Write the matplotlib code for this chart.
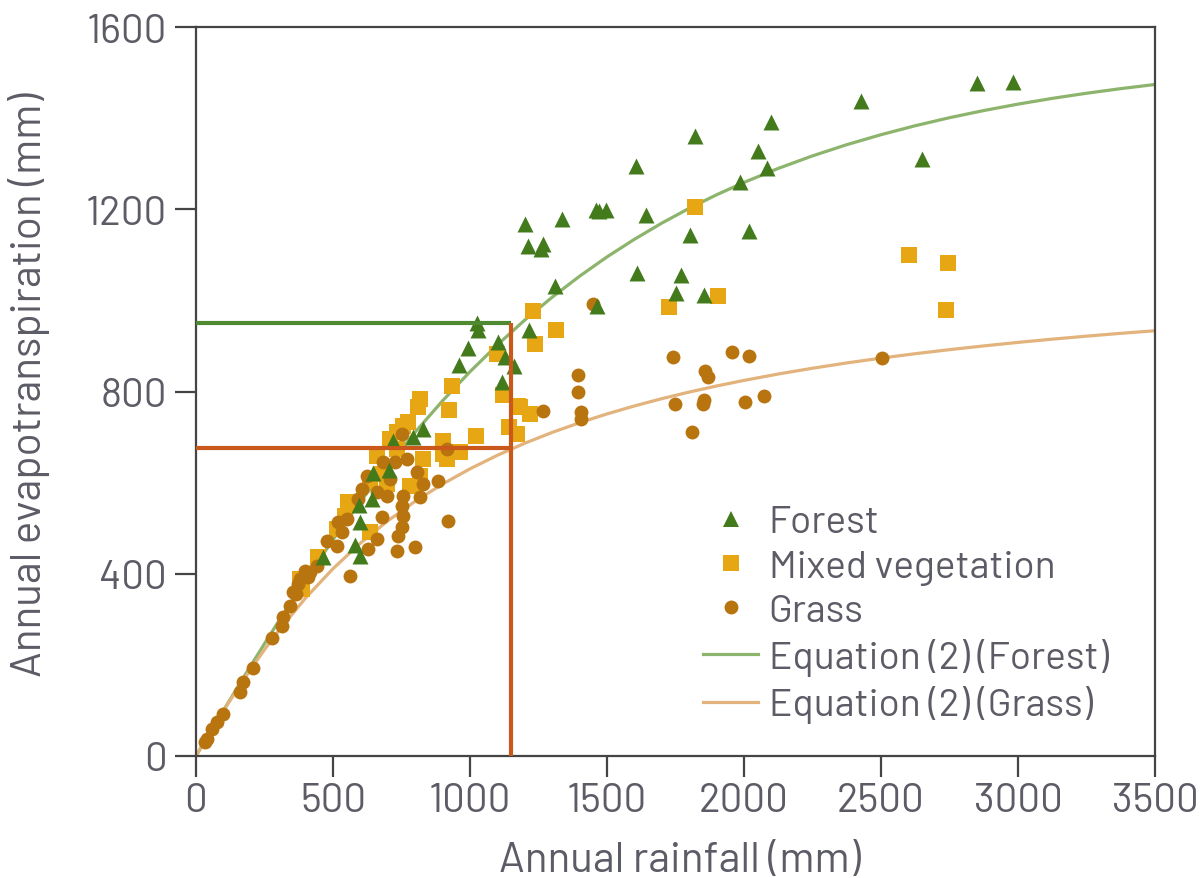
import matplotlib
matplotlib.use("Agg")
import matplotlib.pyplot as plt
from matplotlib.lines import Line2D

plt.rcParams['font.family'] = ['Barlow', 'DejaVu Sans']

# Observed catchments: (annual rainfall mm, annual evapotranspiration mm)
forest_rain = [2850, 2982, 2427, 2099, 1821, 2051, 2650, 1606, 2084, 1985, 1201, 1336,
               1460, 1496, 1471, 1642, 1212, 1266, 1259, 1803, 2018, 1310, 1609, 1770,
               1752, 1854, 1464, 1215, 1025, 1030, 993, 960, 1102, 1128, 1161, 1117,
               828, 792, 719, 704, 646, 595, 642, 599, 580, 599, 464]
forest_et = [1477, 1479, 1438, 1391, 1361, 1328, 1310, 1295, 1291, 1260, 1168, 1179,
             1198, 1198, 1196, 1187, 1119, 1124, 1113, 1143, 1152, 1032, 1060, 1056,
             1016, 1012, 988, 935, 950, 935, 895, 858, 909, 876, 856, 821,
             718, 700, 691, 628, 621, 551, 564, 514, 463, 439, 437]

mixed_rain = [1821, 2602, 2745, 2737, 1905, 1726, 1230, 1314, 1237, 1182, 1219, 1099,
              934, 923, 818, 810, 1120, 1175, 1022, 1142, 1172, 901, 964, 755, 708,
              916, 660, 734, 828, 818, 679, 697, 635, 781, 555, 544, 515, 635, 445,
              380, 387, 774, 734, 901, 792]
mixed_et = [1205, 1100, 1082, 979, 1010, 985, 977, 935, 904, 766, 750, 882,
            812, 759, 783, 766, 792, 768, 702, 722, 707, 691, 667, 724, 696,
            652, 658, 674, 652, 615, 619, 597, 604, 593, 557, 527, 498, 492, 437,
            388, 367, 733, 711, 663, 593]

grass_rain = [2504, 1741, 1956, 2018, 1858, 1869, 1394, 1394, 1405, 1405, 1748, 1854,
              1850, 2004, 2073, 1810, 1266, 1449, 752, 916, 682, 770, 726, 807, 624,
              708, 883, 828, 606, 660, 697, 755, 818, 591, 752, 755, 679, 920, 551,
              518, 533, 752, 737, 660, 478, 515, 628, 734, 799, 562, 442, 398, 409,
              372, 354, 380, 416, 365, 343, 318, 314, 277, 208, 172, 161, 99, 77, 58,
              40, 33]
grass_et = [874, 876, 887, 878, 845, 832, 836, 799, 755, 740, 773, 781,
            773, 777, 790, 711, 757, 992, 707, 674, 645, 652, 645, 623, 615,
            608, 604, 597, 586, 579, 571, 571, 568, 564, 549, 527, 525, 516, 520,
            514, 492, 503, 483, 476, 472, 461, 454, 450, 459, 395, 417, 406, 393,
            378, 360, 388, 404, 356, 329, 305, 285, 259, 193, 162, 140, 92, 75, 59,
            37, 31]

# Equation (2) curves, tabulated against rainfall
curve_rain = [0, 50, 100, 150, 200, 250, 300, 400, 500, 600, 700, 800, 900, 1000,
              1100, 1200, 1300, 1400, 1500, 1600, 1700, 1800, 1900, 2000, 2125, 2250,
              2375, 2500, 2625, 2750, 2875, 3000, 3125, 3250, 3375, 3500]
curve_forest = [0, 50.0, 99.8, 149.2, 198.1, 246.4, 294.0, 386.4, 474.7, 558.3, 637.1,
                710.9, 779.6, 843.4, 902.4, 956.9, 1007.0, 1053.1, 1095.4, 1134.1,
                1169.6, 1202.1, 1231.8, 1259.0, 1289.7, 1317.2, 1341.8, 1363.7,
                1383.4, 1401.0, 1416.7, 1430.8, 1443.4, 1454.7, 1464.8, 1473.9]
curve_grass = [0, 49.8, 98.6, 145.7, 190.7, 233.4, 273.6, 346.9, 411.0, 467.1, 516.1,
               559.1, 596.9, 630.3, 660.0, 686.5, 710.2, 731.5, 750.8, 768.3, 784.3,
               798.8, 812.1, 824.4, 838.4, 851.1, 862.7, 873.3, 883.0, 891.9, 900.1,
               907.8, 914.9, 921.5, 927.7, 933.4]

# Worked example: rainfall of 1150 mm
example_rain = 1150
example_et_forest = 950
example_et_grass = 676

x_ticks = [0, 500, 1000, 1500, 2000, 2500, 3000, 3500]
y_ticks = [0, 400, 800, 1200, 1600]

C_FOREST = '#437a1c'
C_MIXED = '#e7a614'
C_GRASS = '#b8740f'
C_CURVE_F = '#8db46c'
C_CURVE_G = '#e2b37c'
C_LINE_F = '#4f8a33'
C_LINE_G = '#c9581a'
C_TEXT = '#5c5c66'
C_AXIS = '#444444'

fig = plt.figure(figsize=(12, 8.79), dpi=100)
ax = fig.add_axes([0.1633, 0.1388, 0.7992, 0.8293])

ax.plot(curve_rain, curve_forest, color=C_CURVE_F, lw=2.3, zorder=2)
ax.plot(curve_rain, curve_grass, color=C_CURVE_G, lw=2.3, zorder=2)

ax.scatter(mixed_rain, mixed_et, marker='s', s=11**2, color=C_MIXED, lw=0, zorder=3)
ax.scatter(grass_rain, grass_et, marker='o', s=10**2, color=C_GRASS, lw=0, zorder=4)
ax.scatter(forest_rain, forest_et, marker='^', s=11.5**2, color=C_FOREST, lw=0, zorder=5)

ax.plot([0, example_rain], [example_et_forest, example_et_forest], color=C_LINE_F,
        lw=3, zorder=6, solid_capstyle='butt')
ax.plot([0, example_rain], [example_et_grass, example_et_grass], color=C_LINE_G,
        lw=3, zorder=6, solid_capstyle='butt')
ax.plot([example_rain, example_rain], [0, example_et_forest], color=C_LINE_G,
        lw=3, zorder=6, solid_capstyle='butt')

ax.set_xlim(0, 3500)
ax.set_ylim(0, 1600)
ax.set_xticks(x_ticks)
ax.set_yticks(y_ticks)
ax.tick_params(direction='out', length=15, width=1.6, color=C_AXIS,
               labelcolor=C_TEXT, labelsize=29)
ax.tick_params(axis='y', pad=6)
ax.tick_params(axis='x', pad=4)
for sp in ax.spines.values():
    sp.set_color(C_AXIS)
    sp.set_linewidth(1.6)

ax.set_xlabel('Annual rainfall (mm)', fontsize=30.5, color=C_TEXT)
ax.set_ylabel('Annual evapotranspiration (mm)', fontsize=30.5, color=C_TEXT)
ax.xaxis.set_label_coords(0.505, -0.116)
ax.yaxis.set_label_coords(-0.152, 0.51)

handles = [
    Line2D([], [], marker='^', ls='none', color=C_FOREST, markersize=11.5, mew=0),
    Line2D([], [], marker='s', ls='none', color=C_MIXED, markersize=11, mew=0),
    Line2D([], [], marker='o', ls='none', color=C_GRASS, markersize=10, mew=0),
    Line2D([], [], color=C_CURVE_F, lw=2.3),
    Line2D([], [], color=C_CURVE_G, lw=2.3),
]
labels = ['Forest', 'Mixed vegetation', 'Grass',
          'Equation (2) (Forest)', 'Equation (2) (Grass)']
leg = ax.legend(handles, labels, loc='lower left', bbox_to_anchor=(0.529, 0.045),
                frameon=False, fontsize=28, handlelength=1.4, handletextpad=0.28,
                labelspacing=0.235, borderaxespad=0, borderpad=0)
for t in leg.get_texts():
    t.set_color(C_TEXT)

fig.savefig('out.png', dpi=100)
